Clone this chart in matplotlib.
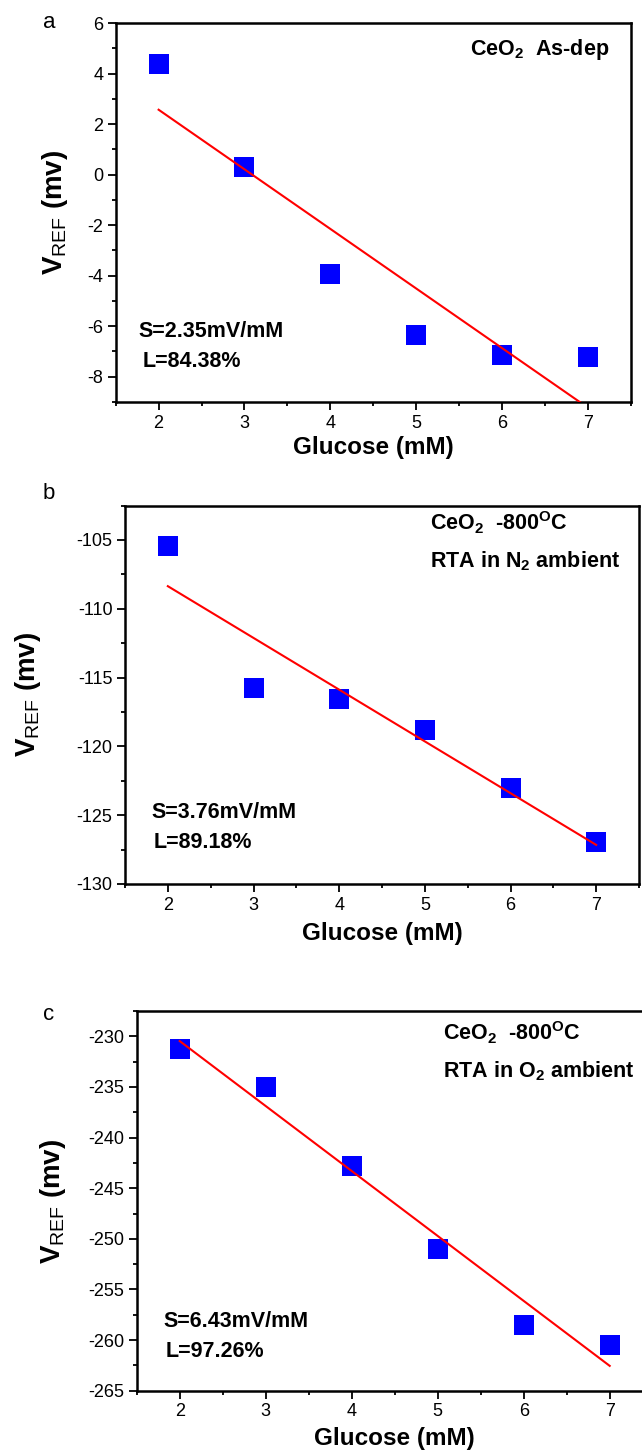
import numpy as np
import matplotlib
matplotlib.use("Agg")
import matplotlib.pyplot as plt
from matplotlib.ticker import MultipleLocator

plt.rcParams['font.family'] = ['Liberation Sans', 'DejaVu Sans']
plt.rcParams['mathtext.fontset'] = 'custom'
plt.rcParams['mathtext.rm'] = 'Liberation Sans'
plt.rcParams['mathtext.bf'] = 'Liberation Sans:bold'
plt.rcParams['mathtext.it'] = 'Liberation Sans:italic'
plt.rcParams['axes.unicode_minus'] = False

# ---- data ----
glucose = [2, 3, 4, 5, 6, 7]
vref_a = [4.36, 0.29, -3.93, -6.34, -7.13, -7.21]
vref_b = [-105.44, -115.79, -116.54, -118.79, -123.05, -126.95]
vref_c = [-231.29, -235.02, -242.78, -250.96, -258.56, -260.44]

panel_letters = ["a", "b", "c"]
titles = [r"CeO$_\mathbf{2}$  As-dep",
          r"CeO$_\mathbf{2}$  -800$^\mathbf{O}$C",
          r"CeO$_\mathbf{2}$  -800$^\mathbf{O}$C"]
titles2 = [None, r"RTA in N$_\mathbf{2}$ ambient", r"RTA in O$_\mathbf{2}$ ambient"]
stats_s = ["S=2.35mV/mM", "S=3.76mV/mM", "S=6.43mV/mM"]
stats_l = ["L=84.38%", "L=89.18%", "L=97.26%"]
ylims = [(-9, 6), (-130, -102.5), (-265, -227.5)]
ymajor = [2, 5, 5]
yminor = [1, 2.5, 2.5]

W, H = 642, 1453
fig = plt.figure(figsize=(W / 100, H / 100), dpi=100)

# axes rectangles in pixels: left, top, right, bottom
rects = [(115.7, 23, 630.7, 402),
         (125, 505.5, 639, 884),
         (136.7, 1011, 652.7, 1390.7)]
ylab_x = [-0.118, -0.189, -0.162]
xlab_y = [-0.121, -0.132, -0.127]
letter_pos = [(49, 23), (49, 494), (49, 1014)]
title_pos = [(470, 55), (430, 530), (443, 1040)]
title2_pos = [None, (430, 567), (443, 1077)]
s_pos = [(138, 337), (151, 818), (163, 1327)]
l_pos = [(143, 367), (154, 848), (166, 1357)]

data = [vref_a, vref_b, vref_c]
TXT = 15.5

def fx(px):
    return px / W

def fy(py):
    return 1 - py / H

for i in range(3):
    l, t, r, b = rects[i]
    ax = fig.add_axes([fx(l), fy(b), (r - l) / W, (b - t) / H])
    x = np.array(glucose, dtype=float)
    y = np.array(data[i], dtype=float)
    coef = np.polyfit(x, y, 1)
    xx = np.array([x.min(), x.max()])
    ax.plot(xx, np.polyval(coef, xx), color='#ff0000', lw=1.5, zorder=3)
    ax.plot(x, y, 's', color='#0000ff', ms=14.5, mew=0, zorder=2)
    ax.set_xlim(1.5, 7.5)
    ax.set_ylim(*ylims[i])
    ax.xaxis.set_major_locator(MultipleLocator(1))
    ax.xaxis.set_minor_locator(MultipleLocator(0.5))
    ax.yaxis.set_major_locator(MultipleLocator(ymajor[i]))
    ax.yaxis.set_minor_locator(MultipleLocator(yminor[i]))
    ax.tick_params(which='both', direction='out', top=False, right=False, width=1.3)
    ax.tick_params(which='major', length=6, labelsize=13, pad=3)
    ax.tick_params(which='minor', length=3)
    for sp in ax.spines.values():
        sp.set_linewidth(1.8)
    ax.set_xlabel("Glucose (mM)", fontsize=17.5, fontweight='bold')
    ax.set_ylabel(r"V$_\mathrm{REF}$ (mv)", fontsize=20, fontweight='bold')
    ax.xaxis.set_label_coords(0.5, xlab_y[i])
    ax.xaxis.label.set_va('center')
    ax.yaxis.set_label_coords(ylab_x[i], 0.5)
    ax.yaxis.label.set_va('center')

    fig.text(fx(letter_pos[i][0]), fy(letter_pos[i][1]), panel_letters[i],
             fontsize=16, ha='center', va='center')
    fig.text(fx(title_pos[i][0]), fy(title_pos[i][1]), titles[i],
             fontsize=TXT, fontweight='bold', ha='left', va='baseline')
    if titles2[i]:
        fig.text(fx(title2_pos[i][0]), fy(title2_pos[i][1]), titles2[i],
                 fontsize=TXT, fontweight='bold', ha='left', va='baseline')
    fig.text(fx(s_pos[i][0]), fy(s_pos[i][1]), stats_s[i],
             fontsize=TXT, fontweight='bold', ha='left', va='baseline')
    fig.text(fx(l_pos[i][0]), fy(l_pos[i][1]), stats_l[i],
             fontsize=TXT, fontweight='bold', ha='left', va='baseline')

fig.savefig("out.png", dpi=100)
